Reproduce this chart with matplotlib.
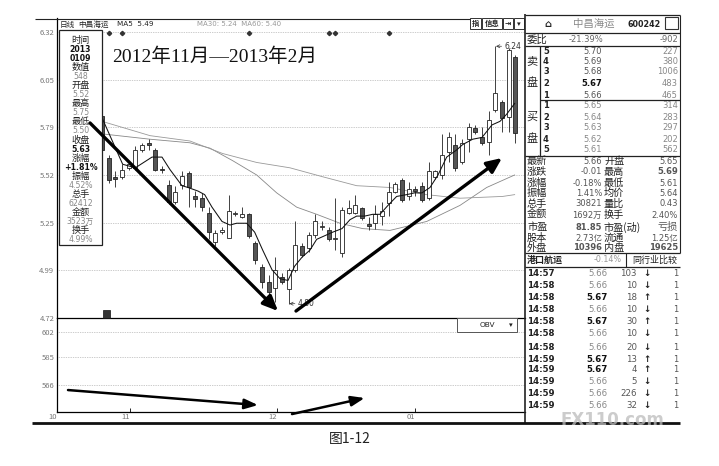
import matplotlib
matplotlib.use('Agg')
import matplotlib.pyplot as plt
from matplotlib.patches import Rectangle

plt.rcParams['font.family'] = ['Noto Sans CJK SC', 'DejaVu Sans']

W, H = 719, 466

# ---------------- data ----------------
opens = [5.85, 5.615, 5.51, 5.51, 5.56, 5.56, 5.66, 5.70, 5.66, 5.555,
         5.465, 5.37, 5.465, 5.53, 5.40, 5.39, 5.31, 5.145, 5.20, 5.17,
         5.30, 5.285, 5.30, 5.14, 5.005, 4.92, 4.89, 4.95, 4.88, 4.99,
         5.12, 5.11, 5.185, 5.23, 5.21, 5.16, 5.085, 5.31, 5.31, 5.335,
         5.245, 5.25, 5.29, 5.365, 5.425, 5.49, 5.40, 5.44, 5.46, 5.39,
         5.51, 5.52, 5.65, 5.69, 5.59, 5.72, 5.78, 5.73, 5.705, 5.885,
         5.93, 5.845, 6.18]
highs = [5.88, 5.63, 5.54, 5.58, 5.60, 5.68, 5.70, 5.72, 5.67, 5.57,
         5.49, 5.46, 5.54, 5.54, 5.43, 5.42, 5.34, 5.21, 5.23, 5.41,
         5.32, 5.34, 5.31, 5.15, 5.02, 4.96, 5.06, 4.97, 5.00, 5.26,
         5.14, 5.20, 5.30, 5.26, 5.23, 5.39, 5.34, 5.38, 5.41, 5.34,
         5.285, 5.35, 5.37, 5.48, 5.48, 5.505, 5.48, 5.46, 5.48, 5.59,
         5.55, 5.75, 5.76, 5.75, 5.72, 5.81, 5.80, 5.79, 5.88, 6.24,
         5.94, 6.23, 6.19]
lows = [5.64, 5.475, 5.45, 5.50, 5.55, 5.55, 5.65, 5.66, 5.54, 5.53,
        5.36, 5.36, 5.44, 5.34, 5.34, 5.32, 5.16, 5.12, 5.19, 5.165,
        5.29, 5.28, 5.17, 5.02, 4.89, 4.83, 4.81, 4.91, 4.80, 4.98,
        5.06, 5.09, 5.17, 5.21, 5.15, 5.10, 5.06, 5.30, 5.30, 5.27,
        5.21, 5.22, 5.24, 5.29, 5.42, 5.37, 5.38, 5.40, 5.37, 5.38,
        5.50, 5.50, 5.59, 5.54, 5.58, 5.65, 5.75, 5.69, 5.63, 5.87,
        5.76, 5.76, 5.70]
closes = [5.66, 5.49, 5.50, 5.55, 5.58, 5.66, 5.69, 5.69, 5.55, 5.55,
          5.37, 5.425, 5.515, 5.45, 5.385, 5.34, 5.20, 5.195, 5.215, 5.32,
          5.305, 5.30, 5.18, 5.045, 4.92, 4.865, 4.99, 4.92, 4.99, 5.13,
          5.07, 5.185, 5.26, 5.235, 5.16, 5.17, 5.325, 5.335, 5.35, 5.28,
          5.235, 5.30, 5.32, 5.425, 5.47, 5.38, 5.44, 5.43, 5.38, 5.54,
          5.54, 5.63, 5.73, 5.56, 5.70, 5.79, 5.76, 5.70, 5.83, 5.98,
          5.84, 6.22, 5.755]

ma5_idx = [0, 3.1, 5.0, 7.5, 9.0, 10.2, 12.0, 12.9, 14.4, 15.4, 16.5, 18.0,
           19.2, 20.2, 21.7, 22.9, 24.1, 25.5, 26.7, 27.9, 28.9, 30.0, 31.2,
           32.2, 33.4, 34.6, 36.0, 37.2, 38.2, 39.4, 40.6, 41.7, 42.9, 44.2,
           45.7, 46.9, 48.0, 49.2, 50.4, 51.7, 53.2, 54.1, 55.6, 57.0, 58.5,
           59.7, 60.7, 61.9]
ma5_val = [5.84, 5.58, 5.56, 5.62, 5.62, 5.55, 5.46, 5.45, 5.43, 5.41, 5.34,
           5.26, 5.24, 5.25, 5.25, 5.20, 5.10, 4.99, 4.94, 4.93, 5.01, 5.06,
           5.10, 5.16, 5.18, 5.20, 5.22, 5.27, 5.29, 5.29, 5.30, 5.30, 5.35,
           5.40, 5.41, 5.42, 5.42, 5.45, 5.52, 5.62, 5.66, 5.69, 5.72, 5.73,
           5.80, 5.82, 5.86, 5.92]
ma30_idx = [0, 7.2, 13.2, 16.2, 19.6, 23.2, 26.2, 29.2, 32.2, 35.7, 39.1,
            43.2, 48.7, 53.7, 57.7, 60.1, 61.9]
ma30_val = [5.75, 5.72, 5.70, 5.67, 5.60, 5.52, 5.42, 5.34, 5.30, 5.25, 5.22,
            5.21, 5.26, 5.35, 5.45, 5.49, 5.52]
ma60_idx = [0, 7.2, 13.2, 18.1, 23.2, 28.2, 33.1, 38.2, 43.2, 48.7, 53.7,
            60.1, 61.9]
ma60_val = [5.82, 5.74, 5.71, 5.64, 5.59, 5.56, 5.51, 5.46, 5.45, 5.41, 5.39,
            5.40, 5.41]

price_ticks = [6.32, 6.05, 5.79, 5.52, 5.25, 4.99, 4.72]
price_labels = ['6.32', '6.05', '5.79', '5.52', '5.25', '4.99', '4.72']
obv_ticks = [602, 585, 566]
obv_labels = ['602', '585', '566']
month_pos = [-6.7, 4.2, 26.2, 46.9]
month_labels = ['10', '11', '12', '01']
event_idx = [1, 3, 22, 34, 35, 43]

info_lines = [('时间', 'l'), ('2013', 'b'), ('0109', 'b'), ('数值', 'l'),
              ('548', 'v'), ('开盘', 'l'), ('5.52', 'v'), ('最高', 'l'),
              ('5.75', 'v'), ('最低', 'l'), ('5.50', 'v'), ('收盘', 'l'),
              ('5.63', 'b'), ('涨幅', 'l'), ('+1.81%', 'b'), ('振幅', 'l'),
              ('4.52%', 'v'), ('总手', 'l'), ('62412', 'v'), ('金额', 'l'),
              ('3523万', 'v'), ('换手', 'l'), ('4.99%', 'v')]

sell_levels = ['5', '4', '3', '2', '1']
sell_prices = ['5.70', '5.69', '5.68', '5.67', '5.66']
sell_vols = ['227', '380', '1006', '483', '465']
buy_levels = ['1', '2', '3', '4', '5']
buy_prices = ['5.65', '5.64', '5.63', '5.62', '5.61']
buy_vols = ['314', '283', '297', '202', '562']
stat_l1 = ['最新', '涨跌', '涨幅', '振幅', '总手', '金额', '市盈', '股本', '外盘']
stat_v1 = ['5.66', '-0.01', '-0.18%', '1.41%', '30821', '1692万', '81.85', '2.73亿', '10396']
stat_l2 = ['开盘', '最高', '最低', '均价', '量比', '换手', '市盈(动)', '流通', '内盘']
stat_v2 = ['5.65', '5.69', '5.61', '5.64', '0.43', '2.40%', '亏损', '1.25亿', '19625']
tick_times = ['14:57', '14:58', '14:58', '14:58', '14:58', '14:58', '14:58',
              '14:59', '14:59', '14:59', '14:59', '14:59']
tick_prices = ['5.66', '5.66', '5.67', '5.66', '5.67', '5.66', '5.66',
               '5.67', '5.67', '5.66', '5.66', '5.66']
tick_vols = ['103', '10', '18', '10', '30', '10', '20', '13', '4', '5', '226', '32']

# ---------------- figure ----------------
fig = plt.figure(figsize=(W / 100, H / 100), dpi=100)
fig.patch.set_facecolor('white')


def rect(l, t, r, b):
    return [l / W, 1 - b / H, (r - l) / W, (b - t) / H]


ov = fig.add_axes([0, 0, 1, 1])
ov.set_xlim(0, W)
ov.set_ylim(H, 0)
ov.axis('off')
ov.set_zorder(10)
ov.patch.set_alpha(0)

XL = (-6.75, 63.45)
ax = fig.add_axes(rect(57, 18, 525, 318))
ax.set_xlim(*XL)
ax.set_ylim(4.72, 6.398)
for s in ['top', 'right', 'bottom']:
    ax.spines[s].set_visible(False)
ax.spines['left'].set_linewidth(0.9)
ax.set_xticks([])
ax.set_yticks(price_ticks, price_labels)
ax.tick_params(axis='y', length=0, labelsize=5.5, labelcolor='#777', pad=2)
for p in price_ticks[:-1]:
    ax.axhline(p, color='#999', lw=0.5, ls=(0, (1, 1.5)), zorder=0)

# candles
for i, (o, h, l, c) in enumerate(zip(opens, highs, lows, closes)):
    up = c >= o
    ax.vlines(i, l, h, color='#222', lw=0.6, zorder=2)
    bot = min(o, c)
    ht = max(abs(c - o), 0.006)
    ax.bar(i, ht, bottom=bot, width=0.62,
           facecolor='white' if up else '#555',
           edgecolor='#222', lw=0.6, zorder=3)

ax.plot(ma30_idx, ma30_val, color='#888', lw=0.6, zorder=1)
ax.plot(ma60_idx, ma60_val, color='#999', lw=0.6, zorder=1)
ax.plot(ma5_idx, ma5_val, color='#111', lw=0.75, zorder=4)
ax.plot(event_idx, [6.315] * len(event_idx), ls='none', marker='D',
        ms=2.2, color='#333', zorder=4)

# high / low annotations
ax.annotate('6.24', xy=(59.1, 6.24), xytext=(6, 0), textcoords='offset points',
            va='center', ha='left', fontsize=5.5, color='#333',
            family='DejaVu Sans',
            arrowprops=dict(arrowstyle='->', lw=0.5, color='#333',
                            shrinkA=0, shrinkB=0), zorder=6)
ax.annotate('4.80', xy=(28.1, 4.80), xytext=(6, 0), textcoords='offset points',
            va='center', ha='left', fontsize=5.5, color='#333',
            family='DejaVu Sans',
            arrowprops=dict(arrowstyle='->', lw=0.5, color='#333',
                            shrinkA=0, shrinkB=0), zorder=6)

# info box (pixel coordinates, on top of the price chart)
ax.add_patch(Rectangle((59, 30), 43, 215, transform=ov.transData,
                       facecolor='white', edgecolor='#222', lw=0.9, zorder=6))
for k, (s, kind) in enumerate(info_lines):
    y = 40 + k * 9.09
    if kind == 'l':
        ax.text(80.5, y, s, transform=ov.transData, ha='center', va='center',
                fontsize=6.6, color='#222', zorder=7)
    elif kind == 'b':
        ax.text(80.5, y, s, transform=ov.transData, ha='center', va='center',
                fontsize=5.6, color='#111', weight='bold', zorder=7,
                family=['DejaVu Sans', 'Noto Sans CJK SC'])
    else:
        ax.text(80.5, y, s, transform=ov.transData, ha='center', va='center',
                fontsize=5.6, color='#888', zorder=7,
                family=['DejaVu Sans', 'Noto Sans CJK SC'])

# big trend arrows
arrow_kw = dict(arrowstyle='-|>,head_length=0.9,head_width=0.4', lw=2.4,
                color='black', shrinkA=0, shrinkB=0)
ax.annotate('', xy=(26.4, 4.759), xytext=(-1.8, 5.811),
            arrowprops=arrow_kw, annotation_clip=False, zorder=8)
ax.annotate('', xy=(60.0, 5.615), xytext=(29.1, 4.759),
            arrowprops=arrow_kw, annotation_clip=False, zorder=8)

# ---------------- OBV panel ----------------
ax2 = fig.add_axes(rect(57, 318, 525, 412))
ax2.set_xlim(*XL)
ax2.set_ylim(547.7, 611.5)
ax2.spines['right'].set_visible(False)
for s in ['left', 'top', 'bottom']:
    ax2.spines[s].set_linewidth(0.9)
ax2.set_yticks(obv_ticks, obv_labels)
ax2.tick_params(axis='y', length=0, labelsize=5.5, labelcolor='#777', pad=2)
ax2.set_xticks(month_pos, month_labels)
ax2.tick_params(axis='x', direction='in', length=3, width=0.6,
                labelsize=5.5, labelcolor='#777', pad=1)
for lbl in ax2.get_xticklabels():
    lbl.set_ha('right')
for v in obv_ticks:
    ax2.axhline(v, color='#999', lw=0.5, ls=(0, (1, 1.5)), zorder=0)
arrow_kw2 = dict(arrowstyle='-|>,head_length=0.8,head_width=0.3', lw=1.8,
                 color='black', shrinkA=0, shrinkB=0)
ax2.annotate('', xy=(23.4, 552.4), xytext=(-5.1, 562.6),
             arrowprops=arrow_kw2, annotation_clip=False)
ax2.annotate('', xy=(39.4, 557.2), xytext=(28.5, 546.3),
             arrowprops=arrow_kw2, annotation_clip=False)


# ---------------- overlay (UI chrome) ----------------
def T(x, y, s, ha='left', size=6.5, color='#222', weight='normal', **kw):
    ov.text(x, y, s, ha=ha, va='center', fontsize=size, color=color,
            weight=weight, **kw)


def L(xs, ys, lw=0.8, color='#222'):
    ov.plot(xs, ys, color=color, lw=lw, solid_capstyle='butt')


# top border and header
L([35, 470], [18.5, 18.5], lw=0.8)
T(60, 24.5, '日线', size=5.5)
T(78, 24.5, '中昌海运', size=5.5)
T(117, 24.5, 'MA5  5.49', size=5.2, family='DejaVu Sans')
T(197, 24.5, 'MA30: 5.24  MA60: 5.40', size=5.0, color='#999',
  family='DejaVu Sans')
for (bx, bw, lab) in [(470, 11, '指'), (482, 20, '信息'), (503, 10, '⇥'), (514, 10, '▾')]:
    ov.add_patch(Rectangle((bx, 18), bw, 11, facecolor='white',
                           edgecolor='#333', lw=0.7))
    T(bx + bw / 2, 23.5, lab, ha='center', size=5.3, weight='bold')

# title text
ov.text(112, 57, '2012年11月—2013年2月', ha='left', va='center', fontsize=14,
        color='#111', family=['Liberation Serif', 'Noto Sans CJK SC'])

# small icon near bottom of price chart
ov.add_patch(Rectangle((103, 310), 7, 8, facecolor='#333', edgecolor='#111', lw=0.5))

# OBV selector
ov.add_patch(Rectangle((457, 318), 60, 14, facecolor='white', edgecolor='#555', lw=0.7))
T(487, 325, 'OBV', ha='center', size=5.3, family='DejaVu Sans')
T(511, 325, '▾', ha='center', size=5.3)

# right panel frame
L([525, 525], [14, 424], lw=1.2)
L([680, 680], [15, 253], lw=0.8)
for yy in [15, 33, 46, 156, 253, 267]:
    L([525, 680], [yy, yy], lw=0.9)
L([540, 680], [100, 100], lw=0.9)
L([540, 540], [46, 156], lw=0.9)
L([626, 626], [253, 267], lw=0.8)

T(548, 24, '⌂', ha='center', size=7, weight='bold')
T(573, 24, '中昌海运', size=7.5, color='#888')
T(628, 24.5, '600242', size=5.8, weight='bold', family='DejaVu Sans')
ov.add_patch(Rectangle((665, 17), 13, 12, facecolor='white', edgecolor='#333', lw=0.8))

T(527, 40, '委比', size=7.5)
T(603, 40, '-21.39%', ha='right', size=6, color='#666', family='DejaVu Sans')
T(678, 40, '-902', ha='right', size=6, color='#666', family='DejaVu Sans')

T(532, 61, '卖', ha='center', size=8)
T(532, 83, '盘', ha='center', size=8)
T(532, 117, '买', ha='center', size=8)
T(532, 139, '盘', ha='center', size=8)

sell_y = [51, 61, 72, 83, 95]
for y, lv, p, v in zip(sell_y, sell_levels, sell_prices, sell_vols):
    T(543, y, lv, size=6, weight='bold', family='DejaVu Sans')
    bold = p == '5.67'
    T(602, y, p, ha='right', size=6, weight='bold' if bold else 'normal',
      color='#111' if bold else '#555', family='DejaVu Sans')
    T(678, y, v, ha='right', size=6, color='#888', family='DejaVu Sans')
buy_y = [106, 117, 128, 139, 150]
for y, lv, p, v in zip(buy_y, buy_levels, buy_prices, buy_vols):
    T(543, y, lv, size=6, weight='bold', family='DejaVu Sans')
    T(602, y, p, ha='right', size=6, color='#888', family='DejaVu Sans')
    T(678, y, v, ha='right', size=6, color='#888', family='DejaVu Sans')

stat_y = [161, 172, 183, 193, 204, 215, 227, 238, 248]
for y, l1, v1, l2, v2 in zip(stat_y, stat_l1, stat_v1, stat_l2, stat_v2):
    T(527, y, l1, size=7.3)
    T(602, y, v1, ha='right', size=6, color='#555',
      weight='bold' if v1 in ('81.85', '10396') else 'normal',
      family=['DejaVu Sans', 'Noto Sans CJK SC'])
    T(604, y, l2, size=7.3)
    T(678, y, v2, ha='right', size=6 if v2 != '亏损' else 7.3,
      color='#555', weight='bold' if v2 in ('5.69', '19625') else 'normal',
      family=['DejaVu Sans', 'Noto Sans CJK SC'])

T(527, 260, '港口航运', size=6.5, weight='bold')
T(622, 260, '-0.14%', ha='right', size=5.8, color='#999', family='DejaVu Sans')
T(632, 260, '同行业比较', size=6.5)

tick_y = [274, 286, 298, 310, 322, 334, 347, 359, 370, 382, 394, 406]
for y, t, p, v in zip(tick_y, tick_times, tick_prices, tick_vols):
    T(527, y, t, size=6.2, weight='bold', family='DejaVu Sans')
    up = p == '5.67'
    T(608, y, p, ha='right', size=6.2, weight='bold' if up else 'normal',
      color='#111' if up else '#888', family='DejaVu Sans')
    T(637, y, v, ha='right', size=6.2, color='#555', family='DejaVu Sans')
    T(647, y, '↑' if up else '↓', ha='center', size=6.2, weight='bold',
      family='DejaVu Sans')
    T(678, y, '1', ha='right', size=6, color='#555', family='DejaVu Sans')

# bottom rule and watermark
L([32, 680], [423, 423], lw=2.0, color='#111')
ov.text(612, 420, 'FX110.com', ha='center', va='center', fontsize=12,
        weight='bold', color='#bbbbbb', alpha=0.75, family='DejaVu Sans')

# caption
T(350, 439, '图1-12', ha='center', size=10, color='#222')

fig.savefig('out.png', dpi=100, facecolor='white')
